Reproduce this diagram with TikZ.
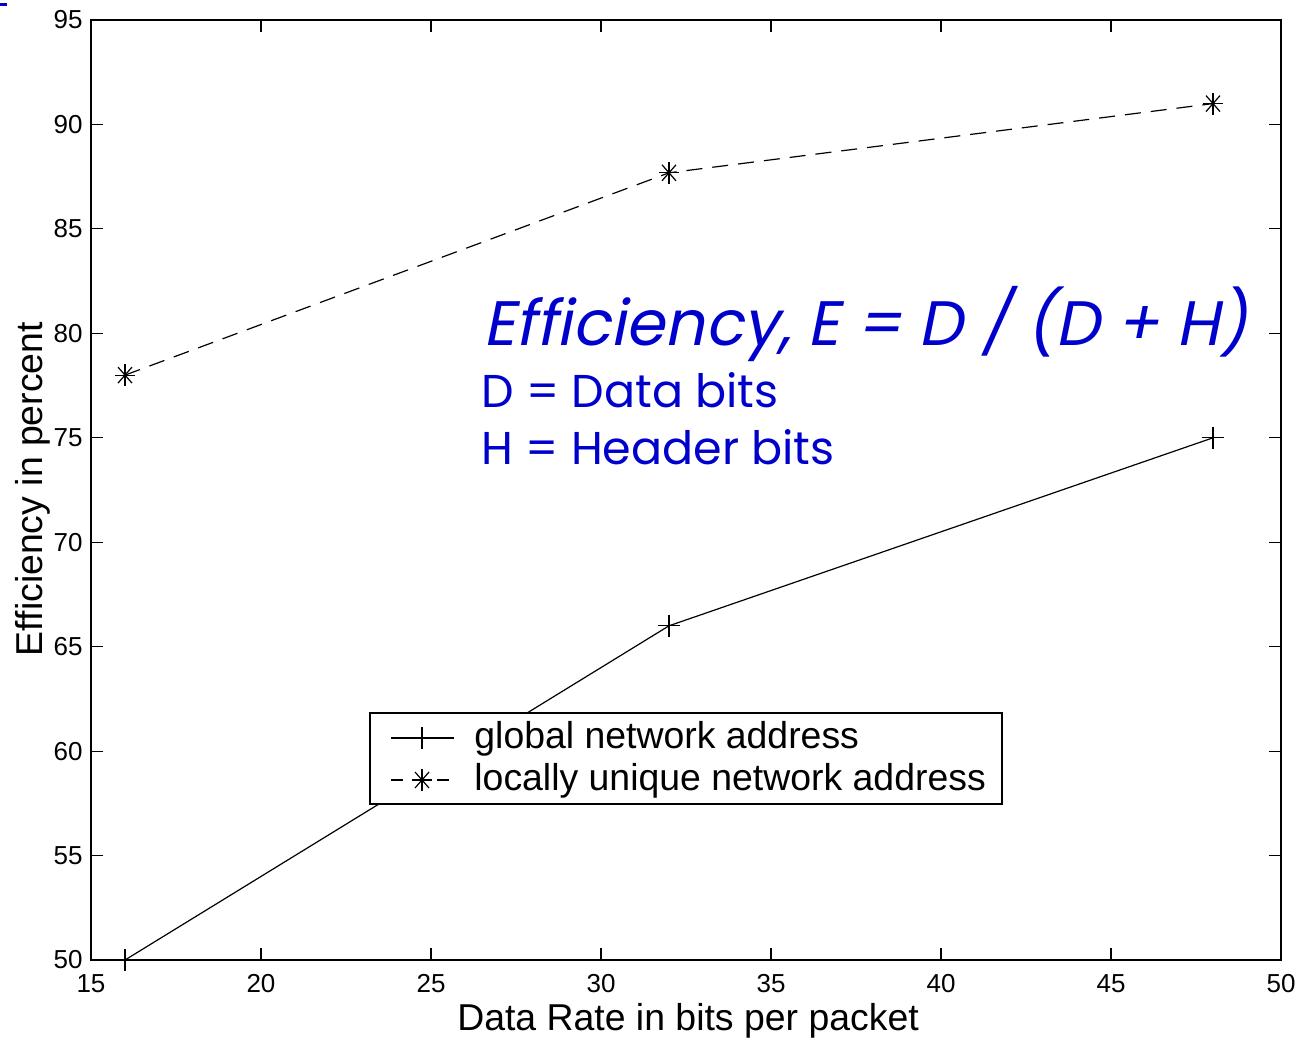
\documentclass[tikz,border=0pt]{standalone}
\usepackage{fontspec}
\setmainfont{Liberation Sans}
\newfontfamily\notefont{Poppins}
\usetikzlibrary{calc}
\definecolor{noteblue}{RGB}{0,0,204}
\begin{document}
\begin{tikzpicture}[x=0.5pt,y=-0.5pt,
  axisline/.style={line width=0.9pt},
  tickmark/.style={line width=0.6pt},
  curve/.style={line width=0.6pt},
  dashcurve/.style={line width=0.6pt,dash pattern=on 8pt off 5pt},
  ticklabel/.style={font=\fontsize{13}{15}\selectfont,inner sep=0pt},
  axislabel/.style={font=\fontsize{18.7}{22}\selectfont,inner sep=0pt},
  legendtext/.style={font=\fontsize{18.7}{22}\selectfont,inner sep=0pt,anchor=west},
  note/.style={text=noteblue,inner sep=0pt,anchor=base west},
  plusmark/.style={line width=0.6pt},
]
% canvas
\useasboundingbox (0,0) rectangle (1300,1038);
\fill[noteblue] (0,3) rectangle (7,6);

% axes frame
\coordinate (ll) at (91,960);
\coordinate (ur) at (1281,20);
\draw[axisline] (ll) rectangle (ur);

% x ticks and labels
\foreach \v in {15,20,...,50}{
  \pgfmathsetmacro\xx{91+34*(\v-15)}
  \draw[tickmark] (\xx,960) -- (\xx,948);
  \draw[tickmark] (\xx,20) -- (\xx,32);
  \node[ticklabel,anchor=base] (xl\v) at (\xx,992) {\v};
}
% y ticks and labels
\foreach \v in {50,55,...,95}{
  \pgfmathsetmacro\yy{20+20.8889*(95-\v)}
  \draw[tickmark] (91,\yy) -- (103,\yy);
  \draw[tickmark] (1281,\yy) -- (1269,\yy);
  \node[ticklabel,anchor=east] (yl\v) at (83,\yy) {\v};
}

% axis titles
\node[axislabel,anchor=base] (xtitle) at (688,1030) {Data Rate in bits per packet};
\node[axislabel,anchor=base,rotate=90] (ytitle) at (42,489) {Efficiency in percent};

% data points
\coordinate (g1) at (125,960);
\coordinate (g2) at (669,625.8);
\coordinate (g3) at (1213,437.8);
\coordinate (l1) at (125,375.1);
\coordinate (l2) at (669,172.8);
\coordinate (l3) at (1213,103.6);

% global network address
\draw[curve] (g1) -- (g2) -- (g3);
\foreach \p in {g1,g2,g3}{
  \draw[plusmark] ($(\p)+(-11,0)$) -- ($(\p)+(11,0)$);
  \draw[plusmark] ($(\p)+(0,-11)$) -- ($(\p)+(0,11)$);
}
% locally unique network address
\draw[dashcurve] (l1) -- (l2) -- (l3);
\foreach \p in {l1,l2,l3}{
  \draw[plusmark] ($(\p)+(-10,0)$) -- ($(\p)+(10,0)$);
  \draw[plusmark] ($(\p)+(0,-11)$) -- ($(\p)+(0,11)$);
  \draw[plusmark] ($(\p)+(-7,-8)$) -- ($(\p)+(7,8)$);
  \draw[plusmark] ($(\p)+(-7,8)$) -- ($(\p)+(7,-8)$);
}

% legend
\draw[axisline,fill=white] (370,713) rectangle (1002,804);
\coordinate (lgA) at (391,738);
\coordinate (lgB) at (454,738);
\coordinate (lgM) at (422,738);
\draw[curve] (lgA) -- (lgB);
\draw[plusmark] ($(lgM)+(0,-11)$) -- ($(lgM)+(0,11)$);
\node[legendtext] (leg1) at (474,739) {global network address};
\coordinate (lgC) at (391,780);
\coordinate (lgD) at (403,780);
\coordinate (lgE) at (437,780);
\coordinate (lgF) at (449,780);
\coordinate (lgN) at (422,780);
\draw[curve] (lgC) -- (lgD);
\draw[curve] (lgE) -- (lgF);
\draw[plusmark] ($(lgN)+(-10,0)$) -- ($(lgN)+(10,0)$);
\draw[plusmark] ($(lgN)+(0,-11)$) -- ($(lgN)+(0,11)$);
\draw[plusmark] ($(lgN)+(-7,-8)$) -- ($(lgN)+(7,8)$);
\draw[plusmark] ($(lgN)+(-7,8)$) -- ($(lgN)+(7,-8)$);
\node[legendtext] (leg2) at (474,781) {locally unique network address};

% formula note
\node[note,font=\notefont\addfontfeature{FakeSlant=0.2}\fontsize{31.4}{34}\selectfont] (eq) at (483,345) {Efficiency, E = D / (D + H)};
\node[note,font=\notefont\fontsize{23}{26}\selectfont] (dnote) at (481,407) {D = Data bits};
\node[note,font=\notefont\fontsize{23}{26}\selectfont] (hnote) at (481,464) {H = Header bits};
\end{tikzpicture}
\end{document}
